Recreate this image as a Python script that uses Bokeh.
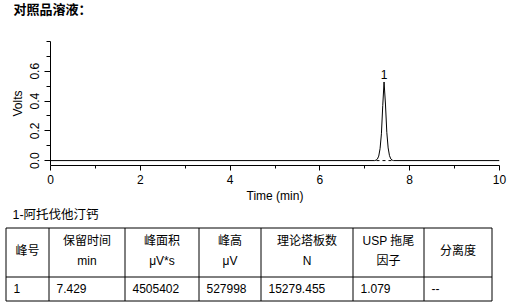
from bokeh.plotting import figure
from bokeh.models import Range1d, FixedTicker
from bokeh.layouts import column
from bokeh.core.properties import value
from bokeh.embed import file_html
from bokeh.resources import INLINE

# ---------------- data ----------------
title_text = "对照品溶液："
time_min = [0.0, 7.22, 7.25, 7.28, 7.31, 7.34, 7.37, 7.40, 7.429, 7.46, 7.49, 7.52, 7.55, 7.58, 7.61, 7.64, 10.0]
volts = [0.0, 0.0, 0.003, 0.010, 0.030, 0.080, 0.180, 0.370, 0.528, 0.380, 0.190, 0.085, 0.033, 0.011, 0.003, 0.0, 0.0]
peak_names = ["1"]
peak_times = [7.429]
peak_heights = [0.528]
peak_starts = [7.26]
peak_ends = [7.61]
x_ticks = [0, 2, 4, 6, 8, 10]
x_minor_ticks = [1, 3, 5, 7, 9]
y_ticks = [0.0, 0.2, 0.4, 0.6]
y_tick_labels = ["0.0", "0.2", "0.4", "0.6"]
y_minor_ticks = [0.1, 0.3, 0.5, 0.7, 0.8]

compound_caption = "1-阿托伐他汀钙"
header_line1 = ["峰号", "保留时间", "峰面积", "峰高", "理论塔板数", "USP 拖尾", "分离度"]
header_line2 = ["", "min", "μV*s", "μV", "N", "因子", ""]
row_values = ["1", "7.429", "4505402", "527998", "15279.455", "1.079", "--"]

# ---------------- styling / layout ----------------
W = 510
LAT = "Liberation Sans"
MIX = "Liberation Sans, Noto Sans CJK SC"


def blank(h):
    f = figure(width=W, height=h, x_range=Range1d(0, W), y_range=Range1d(h, 0),
               x_axis_type=None, y_axis_type=None, output_backend="svg",
               toolbar_location=None, min_border_left=0, min_border_right=0,
               min_border_top=0, min_border_bottom=0, frame_align=False)
    f.grid.visible = False
    f.outline_line_color = None
    f.background_fill_color = "white"
    f.border_fill_color = "white"
    return f


# title strip
pt = blank(20)
pt.text(x=[13], y=[9], text=[title_text], text_font=value(MIX), text_font_size="13px",
        text_font_style="bold", text_baseline="middle", text_align="left", text_color="black")

# chromatogram
p = figure(width=W, height=185, x_range=Range1d(0, 10), y_range=Range1d(-0.033, 0.8),
           output_backend="svg", toolbar_location=None, frame_align=False,
           min_border_left=50, min_border_right=11, min_border_top=21, min_border_bottom=38)
p.grid.visible = False
p.outline_line_color = None
p.background_fill_color = "white"
p.border_fill_color = "white"

p.line(time_min, volts, line_color="black", line_width=1)
p.segment(x0=peak_starts, y0=[0] * len(peak_starts), x1=peak_ends, y1=[0] * len(peak_ends),
          line_color="black", line_width=1, line_dash="3 3")
p.text(x=peak_times, y=peak_heights, text=peak_names, text_font=value(LAT), text_font_size="12px",
       text_align="center", text_baseline="bottom", y_offset=-3, text_color="black")

for ax in (p.xaxis[0], p.yaxis[0]):
    ax.axis_line_color = "black"
    ax.major_tick_line_color = "black"
    ax.minor_tick_line_color = "black"
    ax.major_tick_in = 0
    ax.minor_tick_in = 0
    ax.major_label_text_font = LAT
    ax.major_label_text_font_size = "12px"
    ax.major_label_text_color = "black"
    ax.axis_label_text_font = LAT
    ax.axis_label_text_font_size = "12px"
    ax.axis_label_text_font_style = "normal"
    ax.axis_label_text_color = "black"

p.xaxis.ticker = FixedTicker(ticks=x_ticks, minor_ticks=x_minor_ticks)
p.xaxis.major_tick_out = 5
p.xaxis.minor_tick_out = 3
p.xaxis.major_label_standoff = 4
p.xaxis.axis_label = "Time (min)"
p.xaxis.axis_label_standoff = 2

p.yaxis.ticker = FixedTicker(ticks=y_ticks, minor_ticks=y_minor_ticks)
p.yaxis.major_label_overrides = {t: l for t, l in zip(y_ticks, y_tick_labels)}
p.yaxis.major_tick_out = 6
p.yaxis.minor_tick_out = 4
p.yaxis.major_label_orientation = "vertical"
p.yaxis.major_label_standoff = 5
p.yaxis.axis_label = "Volts"
p.yaxis.axis_label_standoff = 3

# table
tb = blank(99)
tb.text(x=[12], y=[9], text=[compound_caption], text_font=value(MIX), text_font_size="12.5px",
        text_baseline="middle", text_align="left", text_color="black")

col_edges = [5.5, 48.5, 124.5, 198.5, 260.5, 352.5, 423.5, 491.5]
row_edges = [22.5, 71.5, 95.5]
tb.segment(x0=[col_edges[0]] * 3, x1=[col_edges[-1]] * 3, y0=row_edges, y1=row_edges,
           line_color="black", line_width=1)
tb.segment(x0=col_edges, x1=col_edges, y0=[row_edges[0]] * len(col_edges),
           y1=[row_edges[-1]] * len(col_edges), line_color="black", line_width=1)

centers = [(a + b) / 2 for a, b in zip(col_edges[:-1], col_edges[1:])]
h1_y = [35 if l2 else 45 for l2 in header_line2]
tb.text(x=centers, y=h1_y, text=header_line1, text_font=value(MIX), text_font_size="12px",
        text_align="center", text_baseline="middle", text_color="black")
tb.text(x=centers, y=[55] * len(centers), text=header_line2, text_font=value(MIX),
        text_font_size="12px", text_align="center", text_baseline="middle", text_color="black")
tb.text(x=[e + 7.5 for e in col_edges[:-1]], y=[83] * len(row_values), text=row_values,
        text_font=value(MIX), text_font_size="12px", text_align="left", text_baseline="middle",
        text_color="black")

layout = column(pt, p, tb, spacing=0)
open("out.html", "w").write(file_html(layout, INLINE))
